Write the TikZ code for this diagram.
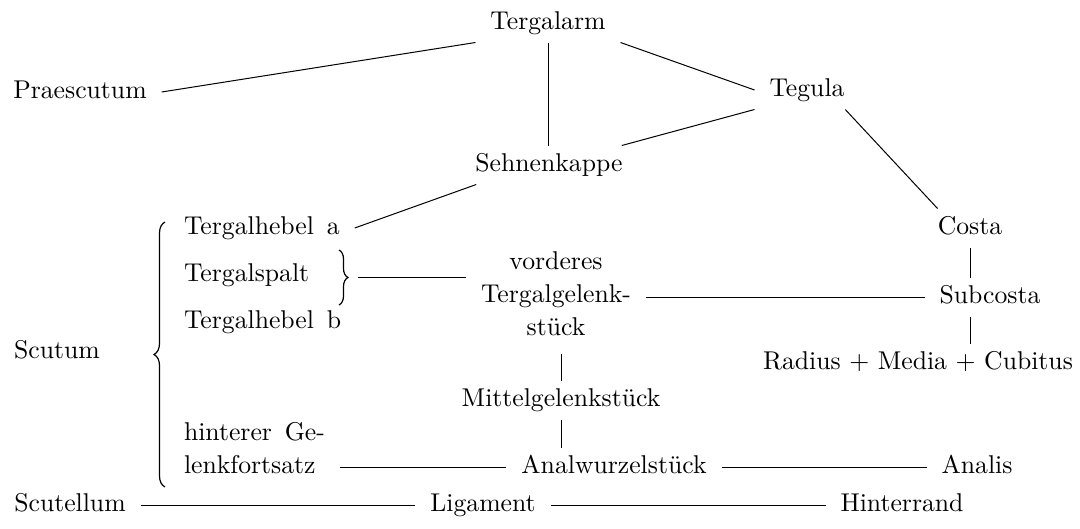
\documentclass[tikz,border=0pt]{standalone}
\usepackage{fontspec}
\setmainfont{lmroman10-regular.otf}
\usepackage{tikz}
\usetikzlibrary{calc,decorations.pathreplacing}
\tikzset{
    part/.style={inner xsep=5pt,inner ysep=2pt,outer xsep=10pt,outer ysep=6pt,
        text height=18pt,text depth=5pt},
    multipart/.style={inner xsep=5pt,inner ysep=2pt,outer xsep=10pt,outer ysep=6pt},
    grouping/.style={line width=1.2pt,decorate,decoration={brace,amplitude=#1}},
    link/.style={line width=1pt}
}

\begin{document}
\begin{tikzpicture}[x=1pt,y=-1pt,font=\fontsize{25.7}{33}\selectfont]
    \useasboundingbox (0,0) rectangle (1080,528);
    % Upper parts
    \node[part] (targ) at (548,23) {Tergalarm};
    \node[part] (prae) at (80,92) {Praescutum};
    \node[part] (teg) at (807,90) {Tegula};
    \node[part] (sehn) at (549,165) {Sehnenkappe};
    % Scutum with its parts
    \node[part] (scutum) at (57,352) {Scutum};
    \draw[grouping=11pt] (165,487) -- (165,222);
    \node[part,anchor=west] (hebA) at (169,228) {Tergalhebel\enspace a};
    \node[part,anchor=west] (spalt) at (169,275) {Tergalspalt};
    \node[part,anchor=west] (hebB) at (169,322) {Tergalhebel\enspace b};
    \draw[grouping=9pt] (339,250) -- (339,305);
    \coordinate (spaltbr) at (358,277);
    \node[multipart,align=left,anchor=west] (gel) at (169,448) {hinterer\enspace Ge-\\lenkfortsatz};
    \node[part] (scutel) at (70,505) {Scutellum};
    % Middle column
    \node[multipart,align=center] (vord) at (556,294) {vorderes\\Tergalgelenk-\\stück};
    \node[part] (mittel) at (561,400) {Mittelgelenkstück};
    \node[part] (anal) at (614,467) {Analwurzelstück};
    \node[part] (lig) at (483,505) {Ligament};
    % Wing veins
    \node[part] (costa) at (970,228) {Costa};
    \node[part] (subc) at (990,297) {Subcosta};
    \node[part] (rmc) at (918,363) {Radius + Media + Cubitus};
    \node[part] (analis) at (977,467) {Analis};
    \node[part] (hint) at (902,505) {Hinterrand};
    % Connections
    \draw[link] (prae.east) -- (targ.south west);
    \draw[link] (targ.south) -- (targ.south |- sehn.north);
    \draw[link] (targ.south east) -- (teg.west);
    \draw[link] (sehn.15) -- (teg.south west);
    \draw[link] (teg.-27) -- (costa.149);
    \draw[link] (sehn.195) -- (hebA.east);
    \draw[link] (spaltbr) -- (spaltbr -| vord.west);
    \draw[link] (vord.east |- subc.west) -- (subc.west);
    \draw[link] (costa.south) -- (costa.south |- subc.north);
    \draw[link] (costa.south |- subc.south) -- (costa.south |- rmc.north);
    \draw[link,shorten <=10pt] (vord.south -| mittel.north) -- (mittel.north);
    \draw[link] (mittel.south) -- (mittel.south |- anal.north);
    \draw[link] (gel.east |- anal.west) -- (anal.west);
    \draw[link] (anal.east) -- (analis.west);
    \draw[link] (scutel.east) -- (lig.west);
    \draw[link] (lig.east) -- (hint.west);
\end{tikzpicture}
\end{document}
